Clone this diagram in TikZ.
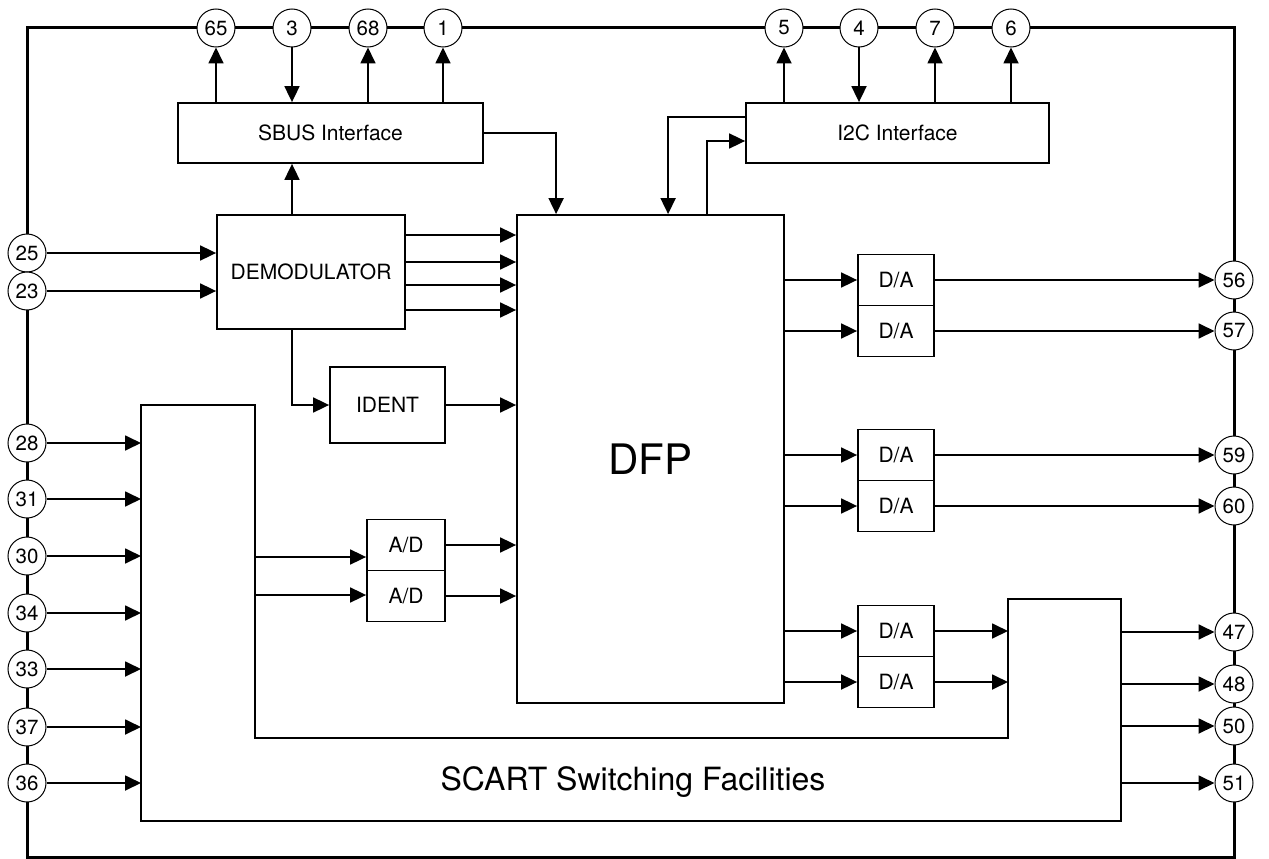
\documentclass[tikz,border=0pt]{standalone}
\usepackage{fontspec}
\setmainfont{TeX Gyre Heros}
\usetikzlibrary{arrows.meta,calc,positioning}

\begin{document}
\begin{tikzpicture}[x=1pt,y=-1pt,
  pin/.style={draw,circle,fill=white,line width=1pt,minimum size=38pt,inner sep=0pt,font=\fontsize{20.5}{22}\selectfont},
  blk/.style={draw,line width=1.8pt,inner sep=0pt,font=\fontsize{21}{24}\selectfont},
  arr/.style={line width=1.8pt,-{Triangle[length=16pt,width=15pt]}}]
  \useasboundingbox (0,0) rectangle (1269,859);
  \draw[line width=3pt] (27,28) rectangle (1234,857);

  % SCART block
  \draw[line width=1.8pt] (141,405) -- (255,405) -- (255,738) -- (1008,738) -- (1008,599)
    -- (1121,599) -- (1121,821) -- (141,821) -- cycle;
  \node[font=\fontsize{32}{36}\selectfont] (scart) at (633,782) {SCART Switching Facilities};
  \coordinate (scw) at (141,0);
  \coordinate (scin1) at (255,557);
  \coordinate (scin2) at (255,595);
  \coordinate (scr) at (1008,0);
  \coordinate (sce) at (1121,0);

  % blocks
  \node[blk,minimum width=305pt,minimum height=60pt] (sbus) at (330.5,133) {SBUS Interface};
  \node[blk,minimum width=303pt,minimum height=60pt] (i2c) at (897.5,133) {I2C Interface};
  \node[blk,minimum width=188pt,minimum height=114pt] (demod) at (311,272) {DEMODULATOR};
  \node[blk,minimum width=267pt,minimum height=488pt,font=\fontsize{42}{46}\selectfont] (dfp) at (650.5,459) {DFP};
  \node[blk,minimum width=115pt,minimum height=76pt] (ident) at (387.5,405) {IDENT};
  \node[blk,minimum width=78pt,minimum height=51pt] (ad1) at (406,545) {A/D};
  \node[blk,minimum width=78pt,minimum height=51pt] (ad2) at (406,596) {A/D};
  \foreach \i/\y in {1/280,2/331,3/455,4/506,5/631,6/682}
    \node[blk,minimum width=76pt,minimum height=51pt] (da\i) at (896,\y) {D/A};

  % pins
  \foreach \n/\x in {65/216,3/292,68/368,1/443,5/784,4/859,7/935,6/1011}
    \node[pin] (p\n) at (\x,28) {\n};
  \foreach \n/\y in {25/253,23/291,28/443,31/499,30/556,34/613,33/669,37/727,36/783}
    \node[pin] (p\n) at (27,\y) {\n};
  \foreach \n/\y in {56/280,57/331,59/455,60/506,47/632,48/684,50/726,51/783}
    \node[pin] (p\n) at (1234,\y) {\n};

  % top connections
  \foreach \n in {65,68,1} \draw[arr] (p\n |- sbus.north) -- (p\n);
  \draw[arr] (p3) -- (p3 |- sbus.north);
  \foreach \n in {5,7,6} \draw[arr] (p\n |- i2c.north) -- (p\n);
  \draw[arr] (p4) -- (p4 |- i2c.north);
  \draw[arr] (demod.north -| p3) -- (sbus.south -| p3);
  \draw[arr] (sbus.east) -| ($(dfp.north west)+(40,0)$);
  \draw[arr] ($(i2c.west)+(0,-16)$) -| ($(dfp.north west)+(152,0)$);
  \draw[arr] ($(dfp.north west)+(191,0)$) |- ($(i2c.west)+(0,8)$);

  % left side
  \draw[arr] (p25) -- (p25 -| demod.west);
  \draw[arr] (p23) -- (p23 -| demod.west);
  \foreach \y in {235,262,285,310} \draw[arr] (demod.east |- 0,\y) -- (dfp.west |- 0,\y);
  \draw[arr] (demod.south -| p3) |- (ident.west);
  \draw[arr] (ident.east) -- (ident.east -| dfp.west);
  \foreach \n in {28,31,30,34,33,37,36} \draw[arr] (p\n) -- (p\n -| scw);
  \draw[arr] (scin1) -- (scin1 -| ad1.west);
  \draw[arr] (scin2) -- (scin2 -| ad2.west);
  \draw[arr] (ad1.east) -- (ad1.east -| dfp.west);
  \draw[arr] (ad2.east) -- (ad2.east -| dfp.west);

  % right side
  \foreach \i in {1,...,6} \draw[arr] (da\i.west -| dfp.east) -- (da\i.west);
  \draw[arr] (da1) -- (p56);
  \draw[arr] (da2) -- (p57);
  \draw[arr] (da3) -- (p59);
  \draw[arr] (da4) -- (p60);
  \draw[arr] (da5.east) -- (da5.east -| scr);
  \draw[arr] (da6.east) -- (da6.east -| scr);
  \foreach \n in {47,48,50,51} \draw[arr] (p\n -| sce) -- (p\n);
\end{tikzpicture}
\end{document}
